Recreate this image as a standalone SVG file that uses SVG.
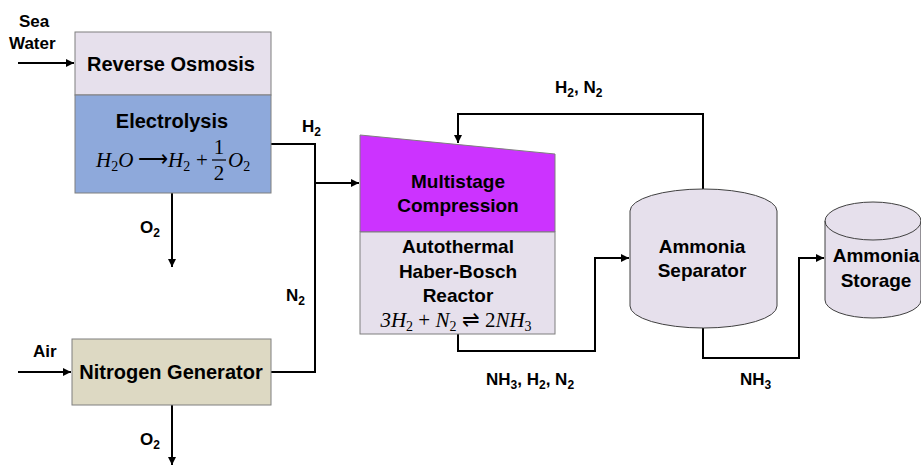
<svg xmlns="http://www.w3.org/2000/svg" width="921" height="466" viewBox="0 0 921 466">
<defs>
<marker id="ah" viewBox="0 0 10 10" refX="10" refY="5" markerWidth="4" markerHeight="4" orient="auto" markerUnits="strokeWidth">
<path d="M0,0 L10,5 L0,10 z" fill="#000"/>
</marker>
</defs>
<style>
.lbl{font-family:"Liberation Sans",Arial,sans-serif;font-weight:bold;font-size:19px;fill:#000;text-anchor:middle}
.big{font-size:20px}
.sm{font-family:"Liberation Sans",Arial,sans-serif;font-weight:bold;font-size:17px;fill:#000}
.sub{font-size:12px}
.math{font-family:"Liberation Serif","Times New Roman",serif;font-style:italic;font-size:21px;fill:#000}
.mid{text-anchor:middle}
.up{font-style:normal}
.box{stroke:#7f7f7f;stroke-width:1}
.conn{fill:none;stroke:#000;stroke-width:2}
.cyl{fill:#E6E0EC;stroke:#404040;stroke-width:1}
</style>
<rect width="921" height="466" fill="#fff"/>

<g id="connectors">
<path class="conn" d="M18,63 H74" marker-end="url(#ah)"/>
<path class="conn" d="M271,144 H315 V372 H271"/>
<path class="conn" d="M315,183 H359" marker-end="url(#ah)"/>
<path class="conn" d="M172,193 V267" marker-end="url(#ah)"/>
<path class="conn" d="M18,372 H71" marker-end="url(#ah)"/>
<path class="conn" d="M172,405 V465" marker-end="url(#ah)"/>
<path class="conn" d="M703,190 V114 H458 V143" marker-end="url(#ah)"/>
<path class="conn" d="M458,334 V351 H595 V258 H629" marker-end="url(#ah)"/>
<path class="conn" d="M703,328 V358 H799 V258 H824" marker-end="url(#ah)"/>
</g>

<g id="reverse-osmosis">
<rect class="box" x="75" y="32" width="196" height="63" fill="#E6E0EC"/>
<text class="lbl big" x="171" y="71">Reverse Osmosis</text>
</g>

<g id="electrolysis">
<rect class="box" x="75" y="95" width="196" height="98" fill="#8EA9DB"/>
<text class="lbl big" x="172" y="128">Electrolysis</text>
<text class="math" x="96" y="167">H<tspan class="up" font-size="14" dy="4">2</tspan><tspan dy="-4">O</tspan></text>
<text class="math up" x="138" y="166" font-size="19">⟶</text>
<text class="math" x="168" y="167">H<tspan class="up" font-size="14" dy="4">2</tspan></text>
<text class="math up" x="196" y="167" font-size="20">+</text>
<text class="math up mid" x="219" y="154" font-size="19">1</text>
<line x1="212" y1="160" x2="226" y2="160" stroke="#000" stroke-width="1.2"/>
<text class="math up mid" x="219" y="180" font-size="19">2</text>
<text class="math" x="228" y="167">O<tspan class="up" font-size="14" dy="4">2</tspan></text>
</g>

<g id="nitrogen-generator">
<rect class="box" x="72" y="339" width="199" height="66" fill="#DDD9C3"/>
<text class="lbl big" x="171" y="379">Nitrogen Generator</text>
</g>

<g id="multistage-compression">
<path class="box" d="M360,135 L555,154 V232 H360 Z" fill="#CC33FF"/>
<text class="lbl" x="458" y="188">Multistage</text>
<text class="lbl" x="458" y="212">Compression</text>
</g>

<g id="haber-bosch-reactor">
<rect class="box" x="360" y="232" width="195" height="102" fill="#E6E0EC"/>
<text class="lbl" x="458" y="253">Autothermal</text>
<text class="lbl" x="458" y="278">Haber-Bosch</text>
<text class="lbl" x="458" y="302">Reactor</text>
<text class="math mid" x="456" y="327">3H<tspan class="up" font-size="14" dy="4">2</tspan><tspan class="up" dy="-4"> + </tspan>N<tspan class="up" font-size="14" dy="4">2</tspan><tspan class="up" dy="-4"> ⇌ 2</tspan>NH<tspan class="up" font-size="14" dy="4">3</tspan></text>
</g>

<g id="ammonia-separator">
<path class="cyl" d="M630,211 A73.5,22 0 0 1 777,211 V306 A73.5,22 0 0 1 630,306 Z"/>
<text class="lbl" x="702" y="253">Ammonia</text>
<text class="lbl" x="702" y="277">Separator</text>
</g>

<g id="ammonia-storage">
<path class="cyl" d="M825,221 A48,19 0 0 1 921,221 V300 A48,18 0 0 1 825,300 Z"/>
<path d="M825,221 A48,19 0 0 0 921,221" fill="none" stroke="#404040" stroke-width="1"/>
<text class="lbl" x="876" y="262">Ammonia</text>
<text class="lbl" x="876" y="287">Storage</text>
</g>

<g id="labels">
<text class="sm" x="19" y="27">Sea</text>
<text class="sm" x="9" y="49">Water</text>
<text class="sm" x="33" y="357">Air</text>
<text class="sm" x="302" y="132">H<tspan class="sub" dy="4">2</tspan></text>
<text class="sm" x="140" y="233">O<tspan class="sub" dy="4">2</tspan></text>
<text class="sm" x="286" y="301">N<tspan class="sub" dy="4">2</tspan></text>
<text class="sm" x="140" y="445">O<tspan class="sub" dy="4">2</tspan></text>
<text class="sm" x="555" y="93">H<tspan class="sub" dy="4">2</tspan><tspan dy="-4">, N</tspan><tspan class="sub" dy="4">2</tspan></text>
<text class="sm" x="486" y="385">NH<tspan class="sub" dy="4">3</tspan><tspan dy="-4">, H</tspan><tspan class="sub" dy="4">2</tspan><tspan dy="-4">, N</tspan><tspan class="sub" dy="4">2</tspan></text>
<text class="sm" x="740" y="385">NH<tspan class="sub" dy="4">3</tspan></text>
</g>
</svg>
